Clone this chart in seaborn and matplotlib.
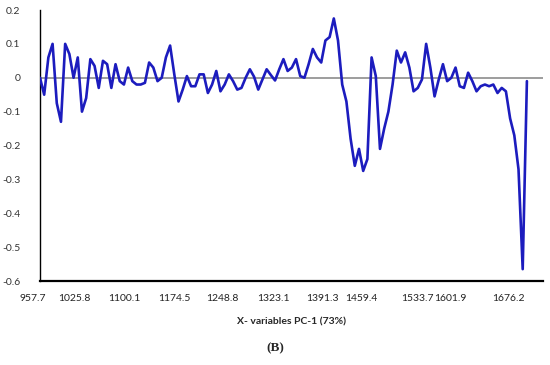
import numpy as np
import pandas as pd
import seaborn as sns
import matplotlib.pyplot as plt
from matplotlib.transforms import ScaledTranslation

# PC-1 loadings (one value per variable)
loadings = [
    0.0, -0.05, 0.06, 0.1, -0.075, -0.13, 0.1, 0.07, 0.0, 0.06,
    -0.1, -0.06, 0.055, 0.035, -0.03, 0.05, 0.04, -0.03, 0.04, -0.01,
    -0.02, 0.03, -0.01, -0.02, -0.02, -0.015, 0.045, 0.03, -0.01, 0.0,
    0.06, 0.095, 0.01, -0.07, -0.035, 0.005, -0.025, -0.025, 0.01, 0.01,
    -0.045, -0.02, 0.02, -0.04, -0.02, 0.01, -0.01, -0.035, -0.03, 0.0,
    0.025, 0.003, -0.035, -0.005, 0.025, 0.008, -0.008, 0.025, 0.055, 0.02,
    0.03, 0.055, 0.005, 0.0, 0.04, 0.085, 0.06, 0.045, 0.11, 0.12,
    0.175, 0.11, -0.02, -0.07, -0.18, -0.26, -0.21, -0.275, -0.24, 0.06,
    0.005, -0.21, -0.15, -0.1, -0.02, 0.08, 0.045, 0.075, 0.03, -0.04,
    -0.03, -0.005, 0.1, 0.03, -0.055, -0.005, 0.04, -0.01, 0.0, 0.03,
    -0.025, -0.03, 0.015, -0.01, -0.04, -0.025, -0.02, -0.025, -0.02, -0.045,
    -0.03, -0.04, -0.12, -0.17, -0.27, -0.565, -0.01,
]
x_labels = ["957.7", "1025.8", "1100.1", "1174.5", "1248.8", "1323.1",
            "1391.3", "1459.4", "1533.7", "1601.9", "1676.2"]
label_at = [0, 8.1, 20.2, 31.9, 43.4, 55.5, 67.2, 76.5, 90, 97.7, 111.5]
y_ticks = [-0.6, -0.5, -0.4, -0.3, -0.2, -0.1, 0, 0.1, 0.2]

df = pd.DataFrame({"var": np.arange(len(loadings)), "loading": loadings})

sns.set_style("white")
plt.rcParams['font.family'] = ['Lato', 'DejaVu Sans']

fig = plt.figure(figsize=(5.5, 3.65), dpi=100)
ax = fig.add_axes([0.0727, 0.2301, 0.9143, 0.7425])

ax.axhline(0, color="#8c8c8c", lw=1.2, zorder=1)
sns.lineplot(data=df, x="var", y="loading", color="#1c1cbe", lw=1.9, ax=ax, zorder=3)

for s in ["top", "right"]:
    ax.spines[s].set_visible(False)
ax.spines["left"].set_color("black")
ax.spines["left"].set_linewidth(1.0)
ax.spines["bottom"].set_color("black")
ax.spines["bottom"].set_linewidth(1.6)

ax.set_yticks(y_ticks)
ax.set_yticklabels(["%g" % v for v in y_ticks], fontsize=7.5, color="#333333")
ax.set_yticks(np.arange(-0.55, 0.2, 0.1), minor=True)
ax.tick_params(axis="y", which="major", direction="inout", length=4, width=1, pad=12)
ax.tick_params(axis="y", which="minor", direction="inout", length=3, width=0.8)

ax.set_xticks(label_at)
ax.set_xticklabels(x_labels, fontsize=7.5, color="#222222")
ax.set_xticks(np.arange(0, 120, 1), minor=True)
ax.tick_params(axis="x", which="major", length=0, pad=9)
ax.tick_params(axis="x", which="minor", direction="out", length=2.5, width=0.8, color="black")

# first label sits a little left of the axis in the original
first = ax.get_xticklabels()[0]
first.set_transform(first.get_transform() + ScaledTranslation(-7 / 100, 0, fig.dpi_scale_trans))

ax.set_xlim(0, 119.8)
ax.set_ylim(-0.6, 0.2)

ax.set_xlabel("X- variables PC-1 (73%)", fontsize=7.5, fontweight="bold", labelpad=11)
ax.set_ylabel("")

fig.text(0.5, 0.045, "(B)", ha="center", va="center", fontsize=9.5,
         fontweight="bold", family=["Liberation Serif", "DejaVu Serif"])

fig.savefig("out.png", dpi=100)
